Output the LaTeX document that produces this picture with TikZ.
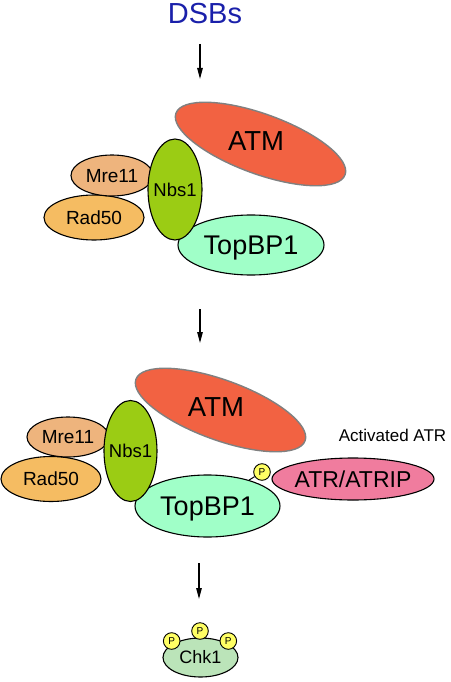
\documentclass[tikz,border=0pt]{standalone}
\usepackage{fontspec}
\setmainfont{Liberation Sans}
\usetikzlibrary{shapes.geometric,arrows.meta}
\newcommand\fsz[1]{\fontsize{#1pt}{#1pt}\selectfont}
\definecolor{atmc}{HTML}{F26242}
\definecolor{nbsc}{HTML}{9BCC14}
\definecolor{mrec}{HTML}{EEB47D}
\definecolor{radc}{HTML}{F5BC62}
\definecolor{topc}{HTML}{A0FFC8}
\definecolor{atrc}{HTML}{F07C9E}
\definecolor{chkc}{HTML}{BBE4B9}
\definecolor{phc}{HTML}{FFFF64}
\definecolor{dsbc}{HTML}{1A20AA}
\begin{document}
\begin{tikzpicture}[x=1pt,y=-1pt,
  prot/.style={ellipse, draw=black, line width=1.1pt, inner sep=0pt},
  atmstyle/.style={ellipse, draw=gray, line width=1.4pt, inner sep=0pt, fill=atmc, rotate=-20, minimum width=180pt, minimum height=60pt},
  ts/.style={font=\fsz{#1}, text height={0.716*#1pt}, text depth=0pt, inner sep=0pt},
  ph/.style={circle, draw=black, line width=0.9pt, fill=phc, minimum size=16.6pt, inner sep=0pt, ts=10},
  arr/.style={line width=1.2pt, -{Triangle[length=11pt,width=5.5pt]}}
]
\useasboundingbox (0,0) rectangle (450,682);

% title
\node[ts=29, text=dsbc] (dsb) at (205,12.7) {DSBs};
\coordinate (a1s) at (200,44);
\coordinate (a1e) at (200,79);
\draw[arr] (a1s) -- (a1e);

% group 1
\node[prot, fill=radc, minimum width=100pt, minimum height=45pt, label={[ts=19]center:Rad50}] (rad1) at (94,217.5) {};
\node[prot, fill=mrec, minimum width=82pt, minimum height=41pt, label={[ts=19]center:Mre11}] (mre1) at (112,175.5) {};
\node[prot, fill=topc, minimum width=146pt, minimum height=60pt, label={[ts=27]center:TopBP1}] (top1) at (251,245) {};
\node[prot, fill=nbsc, minimum width=54pt, minimum height=101pt, label={[ts=18.5]center:Nbs1}] (nbs1) at (175,189.5) {};
\node[atmstyle, label={[ts=27.5, xshift=-4.5pt, yshift=3pt]center:ATM}] (atm1) at (260.5,144) {};

\coordinate (a2s) at (200,309);
\coordinate (a2e) at (200,343);
\draw[arr] (a2s) -- (a2e);

% group 2
\node[prot, fill=radc, minimum width=100pt, minimum height=45pt, label={[ts=19]center:Rad50}] (rad2) at (51,479) {};
\node[prot, fill=mrec, minimum width=82pt, minimum height=40pt, label={[ts=19]center:Mre11}] (mre2) at (68,437) {};
\node[prot, fill=topc, minimum width=145pt, minimum height=62pt, label={[ts=27]center:TopBP1}] (top2) at (207.5,506) {};
\node[prot, fill=nbsc, minimum width=53pt, minimum height=101pt, label={[ts=18.5]center:Nbs1}] (nbs2) at (130.5,451) {};
\node[atmstyle, label={[ts=27.5, xshift=-4.5pt, yshift=3pt]center:ATM}] (atm2) at (220.5,410) {};
\node[prot, fill=atrc, minimum width=162pt, minimum height=42pt, label={[ts=23]center:ATR/ATRIP}] (atr) at (353,479) {};
\node[ph] (p0) at (262,472) {P};
\draw[line width=1pt] (p0) -- (top2);
\node[ts=17] (actatr) at (392.5,435) {Activated ATR};

\coordinate (a3s) at (199,563);
\coordinate (a3e) at (199,599);
\draw[arr] (a3s) -- (a3e);

% Chk1
\node[prot, fill=chkc, minimum width=75pt, minimum height=39pt, label={[ts=18]center:Chk1}] (chk) at (200.5,657.5) {};
\node[ph] (p1) at (171.7,641) {P};
\node[ph] (p2) at (200,631) {P};
\node[ph] (p3) at (228.3,641) {P};
\end{tikzpicture}
\end{document}
